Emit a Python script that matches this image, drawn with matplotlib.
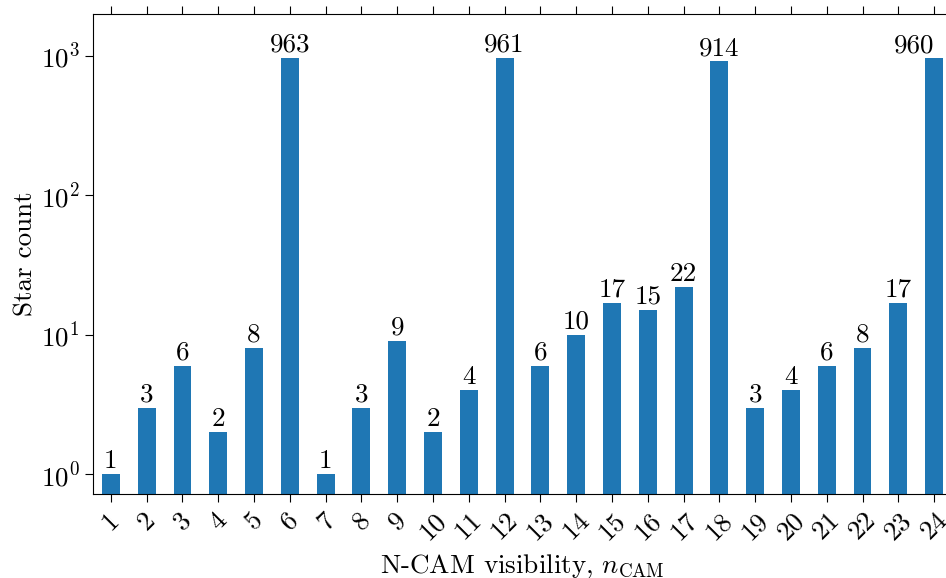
import matplotlib
matplotlib.use("Agg")
import matplotlib.pyplot as plt

n_cam = list(range(1, 25))
star_count = [1, 3, 6, 2, 8, 963, 1, 3, 9, 2, 4, 961,
              6, 10, 17, 15, 22, 914, 3, 4, 6, 8, 17, 960]

plt.rcParams['font.family'] = 'serif'
plt.rcParams['font.serif'] = ['cmr10']
plt.rcParams['mathtext.fontset'] = 'cm'
plt.rcParams['axes.formatter.use_mathtext'] = True
plt.rcParams['axes.unicode_minus'] = False

fig = plt.figure(figsize=(9.46, 5.78), dpi=100)
# right edge of the axes falls just outside the picture (cropped original)
ax = fig.add_axes([93 / 946, 84 / 578, (952 - 93) / 946, 480 / 578])

pos = list(range(len(n_cam)))
bars = ax.bar(pos, star_count, width=0.5, color='#1f77b4')
ax.set_yscale('log')
ax.set_ylim(0.72, 2000)
ax.set_xlim(-0.5, 23.5)
ax.minorticks_off()

labels = ax.bar_label(bars, labels=[str(v) for v in star_count], padding=1, fontsize=19.5)
# last label sits inside the picture
labels[-1].set_horizontalalignment('right')
labels[-1].set_x(labels[-1].get_position()[0] + 0.18)

ax.set_xticks(pos)
ax.set_xticklabels([str(n) for n in n_cam], rotation=45, fontsize=19.5)
ax.tick_params(axis='y', labelsize=19.5)
ax.tick_params(axis='x', top=True, direction='out', length=6, pad=4)
ax.tick_params(axis='y', length=6)
ax.spines['right'].set_visible(False)

ax.set_xlabel(r'N-CAM visibility, $n_{\mathrm{CAM}}$', fontsize=19.5, labelpad=6)
ax.set_ylabel('Star count', fontsize=19.5, labelpad=2)

fig.savefig('out.png', dpi=100)
